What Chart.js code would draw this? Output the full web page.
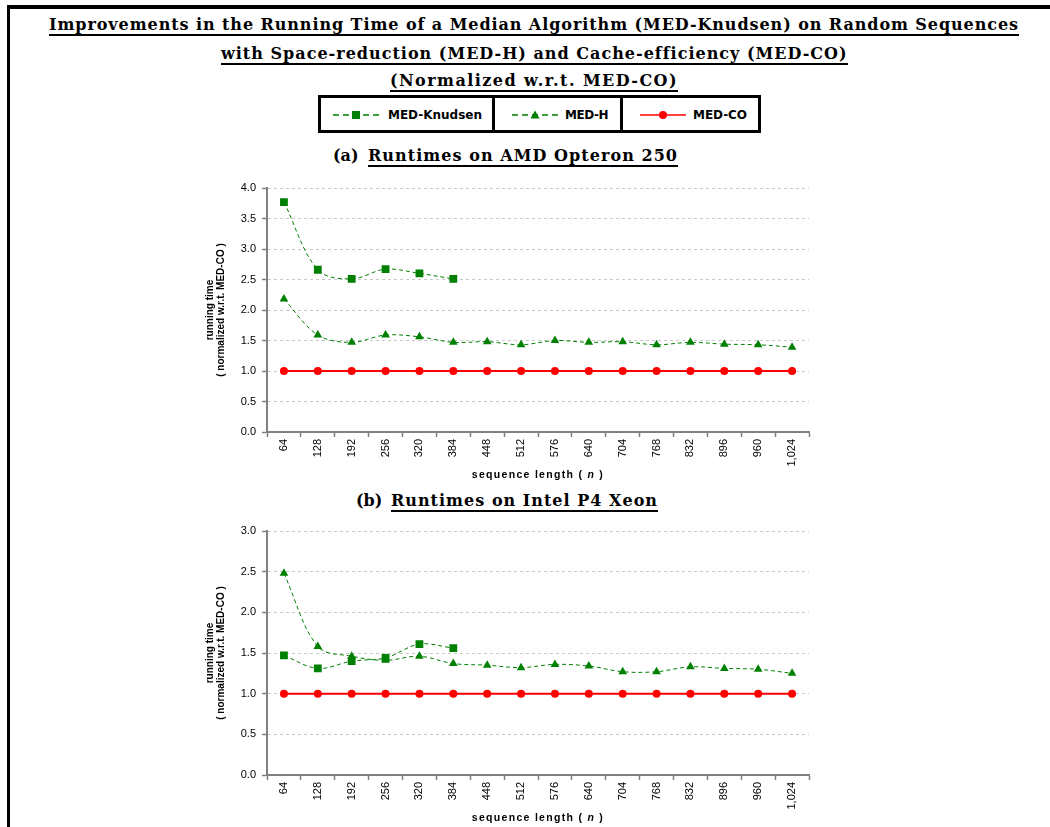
<!DOCTYPE html>
<html>
<head>
<meta charset="utf-8">
<script src="https://cdn.jsdelivr.net/npm/chart.js@4.4.0/dist/chart.umd.min.js"></script>
<style>
  html, body { margin: 0; padding: 0; background: #fff; }
  body { width: 1050px; height: 827px; position: relative; overflow: hidden; }
  .rule { position: absolute; background: #000; }
  .ttl { position: absolute; white-space: nowrap; font: bold 16px "DejaVu Serif", serif; line-height: 17px; color: #000; }
  .ul { display: inline-block; border-bottom: 2px solid #000; padding-bottom: 1px; }
  .legtxt { position: absolute; white-space: nowrap; font: bold 12px "DejaVu Sans", sans-serif; line-height: 14px; color: #000; }
  .icon { position: absolute; }
  canvas { position: absolute; }
</style>
</head>
<body>
  <!-- page frame -->
  <div class="rule" style="left:7px; top:5px; width:1043px; height:4px;"></div>
  <div class="rule" style="left:7px; top:5px; width:3px; height:822px;"></div>

  <!-- heading -->
  <div class="ttl" style="left:49px; top:16px;"><span class="ul fit" data-w="970">Improvements in the Running Time of a Median Algorithm (MED-Knudsen) on Random Sequences</span></div>
  <div class="ttl" style="left:221px; top:45px;"><span class="ul fit" data-w="626">with Space-reduction (MED-H) and Cache-efficiency (MED-CO)</span></div>
  <div class="ttl" style="left:390px; top:72px;"><span class="ul fit" data-w="288">(Normalized w.r.t. MED-CO)</span></div>

  <!-- legend -->
  <div class="rule" style="left:318px; top:95px; width:443px; height:3px;"></div>
  <div class="rule" style="left:318px; top:130px; width:443px; height:3px;"></div>
  <div class="rule" style="left:318px; top:95px; width:3px; height:38px;"></div>
  <div class="rule" style="left:758px; top:95px; width:3px; height:38px;"></div>
  <div class="rule" style="left:492px; top:95px; width:3px; height:38px;"></div>
  <div class="rule" style="left:620px; top:95px; width:3px; height:38px;"></div>

  <svg class="icon" style="left:333px; top:109px;" width="46" height="12">
    <line x1="0" y1="6" x2="46" y2="6" stroke="#008000" stroke-width="1.5" stroke-dasharray="6 4"/>
    <rect x="19" y="2" width="8" height="8" fill="#008000"/>
  </svg>
  <span class="legtxt fit" data-w="94" style="left:388px; top:108px;">MED-Knudsen</span>

  <svg class="icon" style="left:512px; top:109px;" width="46" height="12">
    <line x1="0" y1="6" x2="46" y2="6" stroke="#008000" stroke-width="1.5" stroke-dasharray="6 4"/>
    <polygon points="23,1.5 27.5,9.5 18.5,9.5" fill="#008000"/>
  </svg>
  <span class="legtxt fit" data-w="43" style="left:565px; top:108px;">MED-H</span>

  <svg class="icon" style="left:640px; top:109px;" width="46" height="12">
    <line x1="0" y1="6" x2="46" y2="6" stroke="#ff0000" stroke-width="1.5"/>
    <circle cx="23" cy="6" r="4" fill="#ff0000"/>
  </svg>
  <span class="legtxt fit" data-w="54" style="left:693px; top:108px;">MED-CO</span>

  <!-- panel captions -->
  <div class="ttl" style="left:333px; top:147px;">(a)</div>
  <div class="ttl" style="left:368px; top:147px;"><span class="ul fit" data-w="310">Runtimes on AMD Opteron 250</span></div>
  <div class="ttl" style="left:356px; top:492px;">(b)</div>
  <div class="ttl" style="left:391px; top:492px;"><span class="ul fit" data-w="267">Runtimes on Intel P4 Xeon</span></div>

  <canvas id="amd" width="622" height="305" style="left:198px; top:180px;"></canvas>
  <canvas id="xeon" width="622" height="305" style="left:198px; top:523px;"></canvas>

<script>
// sequence lengths on the x axis
const seqLengths = ['64', '128', '192', '256', '320', '384', '448', '512',
                    '576', '640', '704', '768', '832', '896', '960', '1,024'];

// (a) AMD Opteron 250, running time normalized w.r.t. MED-CO
const amdKnudsen = [3.77, 2.66, 2.51, 2.67, 2.60, 2.51, null, null, null, null, null, null, null, null, null, null];
const amdMedH    = [2.18, 1.59, 1.47, 1.59, 1.56, 1.47, 1.48, 1.43, 1.50, 1.47, 1.48, 1.43, 1.47, 1.44, 1.43, 1.39];
const amdMedCO   = [1, 1, 1, 1, 1, 1, 1, 1, 1, 1, 1, 1, 1, 1, 1, 1];

// (b) Intel P4 Xeon, running time normalized w.r.t. MED-CO
const xeonKnudsen = [1.47, 1.31, 1.40, 1.44, 1.61, 1.56, null, null, null, null, null, null, null, null, null, null];
const xeonMedH    = [2.48, 1.58, 1.46, 1.41, 1.46, 1.37, 1.35, 1.32, 1.36, 1.34, 1.27, 1.27, 1.33, 1.31, 1.30, 1.25];
const xeonMedCO   = [1, 1, 1, 1, 1, 1, 1, 1, 1, 1, 1, 1, 1, 1, 1, 1];

// y axis ranges
const amdYMax = 4.0;
const xeonYMax = 3.0;
const yStep = 0.5;

const seriesNames = ['MED-Knudsen', 'MED-H', 'MED-CO'];
const axisFont = '"Liberation Sans", Arial, sans-serif';

// stretch the heading / legend text to its set width
function fitText() {
  document.querySelectorAll('.fit').forEach(el => {
    el.style.letterSpacing = '0px';
    const w = el.getBoundingClientRect().width;
    const n = el.textContent.length;
    const target = parseFloat(el.dataset.w);
    el.style.letterSpacing = ((target - w) / n) + 'px';
  });
}

// x-axis caption with an italic "n"
const axisCaption = {
  id: 'axisCaption',
  afterDraw(chart) {
    const { ctx, chartArea } = chart;
    const parts = [
      ['sequence length ( ', 'bold 10.5px ' + axisFont],
      ['n', 'italic bold 10.5px ' + axisFont],
      [' )', 'bold 10.5px ' + axisFont]
    ];
    ctx.save();
    ctx.letterSpacing = '1.3px';
    ctx.fillStyle = '#000';
    ctx.textBaseline = 'middle';
    ctx.textAlign = 'left';
    let total = 0;
    const widths = parts.map(([t, f]) => { ctx.font = f; const w = ctx.measureText(t).width; total += w; return w; });
    let x = (chartArea.left + chartArea.right) / 2 - total / 2;
    const y = chartArea.bottom + 43;
    parts.forEach(([t, f], i) => { ctx.font = f; ctx.fillText(t, x, y); x += widths[i]; });
    ctx.restore();
  }
};

function makeChart(id, knudsen, medH, medCO, yMax) {
  const green = '#008000';
  return new Chart(document.getElementById(id), {
    type: 'line',
    data: {
      labels: seqLengths,
      datasets: [
        {
          label: seriesNames[0], data: knudsen,
          borderColor: green, backgroundColor: green, borderWidth: 1, borderDash: [4, 3],
          pointStyle: 'rect', pointRadius: 5.5, pointHoverRadius: 5.5, pointBorderWidth: 0,
          tension: 0.35, spanGaps: false
        },
        {
          label: seriesNames[1], data: medH,
          borderColor: green, backgroundColor: green, borderWidth: 1, borderDash: [4, 3],
          pointStyle: 'triangle', pointRadius: 5, pointHoverRadius: 5, pointBorderWidth: 0,
          tension: 0.35
        },
        {
          label: seriesNames[2], data: medCO,
          borderColor: '#ff0000', backgroundColor: '#ff0000', borderWidth: 2,
          pointStyle: 'circle', pointRadius: 4, pointHoverRadius: 4, pointBorderWidth: 0,
          tension: 0
        }
      ]
    },
    options: {
      responsive: false,
      animation: false,
      devicePixelRatio: 1,
      layout: { autoPadding: false, padding: { top: 8, right: 11, left: 0, bottom: 0 } },
      plugins: { legend: { display: false }, tooltip: { enabled: false } },
      scales: {
        x: {
          type: 'category',
          offset: true,
          grid: { offset: true, drawOnChartArea: false, tickLength: 5, tickColor: '#808080', tickWidth: 1.5 },
          border: { color: '#808080', width: 2 },
          ticks: {
            autoSkip: false, minRotation: 90, maxRotation: 90, padding: 2,
            color: '#000', font: { family: axisFont, size: 11 }
          },
          afterFit(scale) { scale.height = 53; }
        },
        y: {
          min: 0, max: yMax,
          grid: { color: '#c8c8c8', lineWidth: 1, tickLength: 5, tickColor: '#808080', tickWidth: 1.5, tickBorderDash: [] },
          border: { color: '#808080', width: 2, dash: [3, 3] },
          ticks: {
            stepSize: yStep, padding: 6, color: '#000',
            font: { family: axisFont, size: 11 },
            callback: v => Number(v).toFixed(1)
          },
          title: {
            display: true,
            text: ['running time', '( normalized w.r.t. MED-CO )'],
            color: '#000',
            font: { family: axisFont, size: 10, weight: 'bold', lineHeight: 1.1 },
            padding: { top: 7, bottom: 0 }
          },
          afterFit(scale) {
            scale.width = 69;
            scale.paddingTop = 0;
            scale.paddingBottom = 0;
          }
        }
      }
    },
    plugins: [axisCaption]
  });
}

fitText();
makeChart('amd', amdKnudsen, amdMedH, amdMedCO, amdYMax);
makeChart('xeon', xeonKnudsen, xeonMedH, xeonMedCO, xeonYMax);
</script>
</body>
</html>
